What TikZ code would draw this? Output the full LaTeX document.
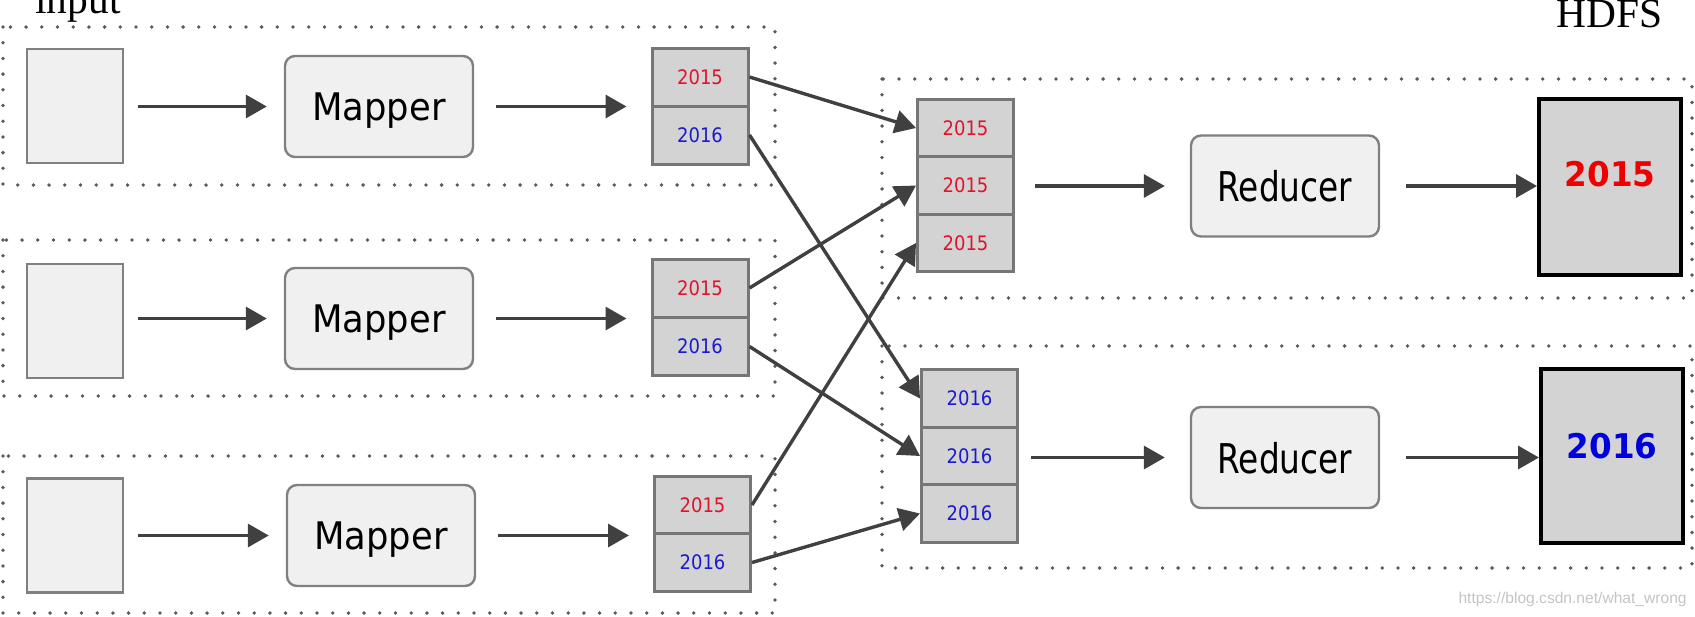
\documentclass[tikz,border=0pt]{standalone}
\usepackage{fontspec}
\setmainfont{DejaVu Sans}
\newfontfamily\titlefont{Liberation Serif}
\newfontfamily\mapfont[FakeStretch=0.93]{DejaVu Sans}
\newfontfamily\redfont[FakeStretch=0.8]{DejaVu Sans}
\newfontfamily\cellfont[FakeStretch=0.9]{DejaVu Sans}
\newfontfamily\hdfsfont[FakeStretch=0.96]{DejaVu Sans}
\newfontfamily\wmfont{Liberation Sans}
\usetikzlibrary{arrows.meta}
\definecolor{boxfill}{HTML}{F0F0F0}
\definecolor{boxline}{HTML}{808080}
\definecolor{cellfill}{HTML}{D3D3D3}
\definecolor{cellline}{HTML}{767676}
\definecolor{arrowc}{HTML}{404040}
\definecolor{dotc}{HTML}{5A5A5A}
\definecolor{cred}{HTML}{E0142B}
\definecolor{cblue}{HTML}{1A1AD0}
\definecolor{bigred}{HTML}{EE0000}
\definecolor{bigblue}{HTML}{0000DD}
\definecolor{wmgray}{HTML}{C4C4C4}
\tikzset{
  dotbox/.style={draw=dotc, line width=1.9pt, line cap=round, dash pattern=on 0pt off 7.85pt},
  inbox/.style={draw=boxline, fill=boxfill, line width=1.2pt, minimum width=48pt, minimum height=57pt, inner sep=0pt},
  procbox/.style={draw=boxline, fill=boxfill, line width=1.2pt, rounded corners=5pt, minimum width=94pt, minimum height=50.5pt, inner sep=0pt, text depth=0pt},
  mapbox/.style={procbox, font=\mapfont\fontsize{19}{19}\selectfont},
  redbox/.style={procbox, font=\redfont\fontsize{20.5}{20.5}\selectfont},
  cell/.style={draw=cellline, fill=cellfill, line width=1.5pt, minimum width=48pt, minimum height=28.8pt, inner sep=0pt, font=\cellfont\fontsize{10}{10}\selectfont},
  rcell/.style={cell, text=cred},
  bcell/.style={cell, text=cblue},
  outbox/.style={draw=black, fill=cellfill, line width=2pt, minimum width=71pt, minimum height=88pt, inner sep=0pt},
  bigtxt/.style={font=\hdfsfont\bfseries\fontsize{17}{17}\selectfont, inner sep=0pt},
  arr/.style={draw=arrowc, line width=1.7pt, -{Triangle[length=10.5pt,width=11.5pt]}},
  title/.style={inner sep=0pt, font=\titlefont\fontsize{20.7}{20.7}\selectfont}
}
\begin{document}
\begin{tikzpicture}[x=0.5pt,y=-0.5pt]
\useasboundingbox (0,0) rectangle (1695,616);
% titles
\node[title, anchor=base west] (tin) at (35,13) {input};
\node[title, anchor=base east] (thdfs) at (1663,27) {HDFS};
% dotted groups
\draw[dotbox] (3,27) rectangle (775,185);
\draw[dotbox] (3,240) rectangle (775,396);
\draw[dotbox] (3,456) rectangle (775,613);
\draw[dotbox] (882,79) rectangle (1692,298);
\draw[dotbox] (882,346) rectangle (1692,568);
% inputs
\node[inbox] (in1) at (75,106) {};
\node[inbox] (in2) at (75,321) {};
\node[inbox] (in3) at (75,535.5) {};
% mappers
\node[mapbox] (map1) at (379,106.5) {Mapper};
\node[mapbox] (map2) at (379,318.5) {Mapper};
\node[mapbox] (map3) at (381,535.5) {Mapper};
% mapper outputs
\node[rcell, minimum height=29pt] (o1a) at (700,77) {2015};
\node[bcell, minimum height=29pt] (o1b) at (700,135) {2016};
\node[rcell, minimum height=29pt] (o2a) at (700,288) {2015};
\node[bcell, minimum height=29pt] (o2b) at (700,346.5) {2016};
\node[rcell, minimum height=29pt] (o3a) at (702.5,505) {2015};
\node[bcell, minimum height=29pt] (o3b) at (702.5,562.5) {2016};
% reducer inputs
\node[rcell] (r1) at (965.5,128) {2015};
\node[rcell] (r2) at (965.5,185.5) {2015};
\node[rcell] (r3) at (965.5,243) {2015};
\node[bcell] (b1) at (969.5,398.5) {2016};
\node[bcell] (b2) at (969.5,456) {2016};
\node[bcell] (b3) at (969.5,513.5) {2016};
% reducers
\node[redbox] (red1) at (1285,186) {Reducer};
\node[redbox] (red2) at (1285,457.5) {Reducer};
% HDFS outputs
\node[outbox] (h1) at (1610,186.5) {};
\node[outbox, minimum height=87pt] (h2) at (1612,456) {};
\node[bigtxt, text=bigred] (h1t) at (1610,174.5) {2015};
\node[bigtxt, text=bigblue] (h2t) at (1612,446) {2016};
% watermark
\node[anchor=base east, inner sep=0pt, font=\wmfont\fontsize{7.8}{7.8}\selectfont, text=wmgray] (wm) at (1687,603) {https://blog.csdn.net/what\_wrong};
% input -> mapper
\foreach \i in {1,2,3}{
  \draw[arr, shorten <=7pt, shorten >=8.5pt] (in\i.east |- map\i.east) -- (map\i.east -| map\i.west);
}
% mapper -> outputs
\draw[arr, shorten <=11pt, shorten >=12pt] (map1.east) -- (map1.east -| o1a.west);
\draw[arr, shorten <=11pt, shorten >=12pt] (map2.east) -- (map2.east -| o2a.west);
\draw[arr, shorten <=11pt, shorten >=12pt] (map3.east) -- (map3.east -| o3a.west);
% shuffle
\draw[arr] (o1a.east) -- (r1.west);
\draw[arr] (o1b.east) -- (b1.west);
\draw[arr] (o2a.east) -- (r2.west);
\draw[arr] (o2b.east) -- (b2.west);
\draw[arr] (o3a.east) -- (r3.west);
\draw[arr] (o3b.east) -- (b3.west);
% stacks -> reducers
\draw[arr, shorten <=10pt, shorten >=12.5pt] (red1.west -| r2.east) -- (red1.west);
\draw[arr, shorten <=6pt, shorten >=12.5pt] (red2.west -| b2.east) -- (red2.west);
% reducers -> HDFS
\draw[arr, shorten <=13pt] (red1.east) -- (red1.east -| h1.west);
\draw[arr, shorten <=13pt] (red2.east) -- (red2.east -| h2.west);
\end{tikzpicture}
\end{document}
